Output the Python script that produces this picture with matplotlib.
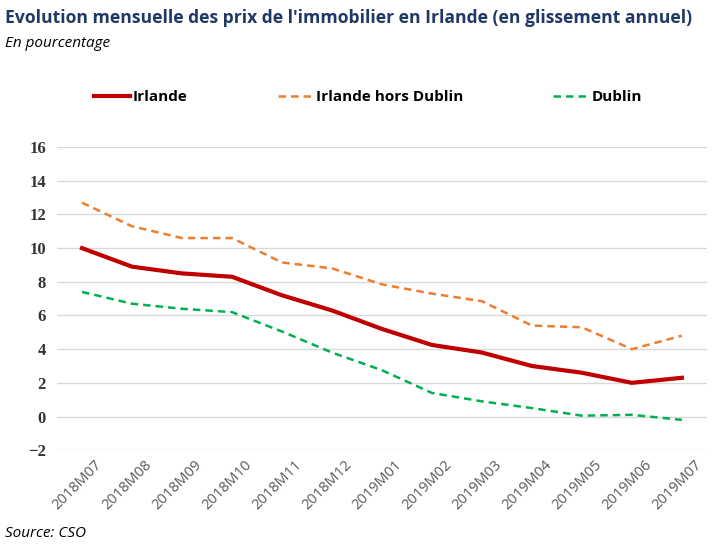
import matplotlib.pyplot as plt
import matplotlib.transforms as mtransforms
from matplotlib.lines import Line2D

# données (glissement annuel, %)
mois = ["2018M07", "2018M08", "2018M09", "2018M10", "2018M11", "2018M12",
        "2019M01", "2019M02", "2019M03", "2019M04", "2019M05", "2019M06", "2019M07"]
irlande = [10.0, 8.9, 8.5, 8.3, 7.2, 6.3, 5.2, 4.25, 3.8, 3.0, 2.6, 2.0, 2.3]
hors_dublin = [12.7, 11.3, 10.6, 10.6, 9.15, 8.8, 7.85, 7.3, 6.85, 5.4, 5.3, 4.0, 4.8]
dublin = [7.4, 6.7, 6.4, 6.2, 5.05, 3.8, 2.75, 1.4, 0.9, 0.5, 0.05, 0.1, -0.2]
yticks = [-2, 0, 2, 4, 6, 8, 10, 12, 14, 16]

c_irl = "#C00000"
c_hors = "#ED7D31"
c_dub = "#00B050"

fig = plt.figure(figsize=(7.22, 5.45), dpi=100)
ax = fig.add_axes([0.079, 0.174, 0.900, 0.556])

x = range(len(mois))
ax.plot(x, hors_dublin, color=c_hors, lw=1.8, ls=(0, (3, 2)))
ax.plot(x, dublin, color=c_dub, lw=1.8, ls=(0, (3, 2)))
ax.plot(x, irlande, color=c_irl, lw=3)

ax.set_xlim(-0.5, len(mois) - 0.5)
ax.set_ylim(-2, 16)
ax.set_yticks(yticks)
ax.set_yticklabels([str(v).replace("-", "\u2212") for v in yticks],
                   family="Liberation Serif", fontsize=12, fontweight="bold", color="#333333")
ax.set_xticks(list(x))
ax.set_xticklabels(mois, rotation=45, ha="right", rotation_mode="anchor",
                   family="Open Sans", fontsize=10.5, color="#595959")
ax.tick_params(length=0, pad=8)
ax.tick_params(axis="x", pad=5)
# decale les etiquettes vers la droite comme dans l'original
decal = mtransforms.ScaledTranslation(12 / 100, 0, fig.dpi_scale_trans)
for lab in ax.get_xticklabels():
    lab.set_transform(lab.get_transform() + decal)
ax.grid(axis="y", color="#D9D9D9", lw=1)
ax.set_axisbelow(True)
for s in ax.spines.values():
    s.set_visible(False)

fig.text(0.007, 0.967, "Evolution mensuelle des prix de l'immobilier en Irlande (en glissement annuel)",
         family="Open Sans", fontsize=12.6, fontweight="bold", color="#1F3864", va="center")
fig.text(0.007, 0.92, "En pourcentage", family="Open Sans", fontsize=11, style="italic",
         color="black", va="center")
fig.text(0.007, 0.022, "Source: CSO", family="Open Sans", fontsize=11, style="italic",
         color="black", va="center")

handles = [Line2D([], [], color=c_irl, lw=3),
           Line2D([], [], color=c_hors, lw=1.8, ls=(0, (3, 2))),
           Line2D([], [], color=c_dub, lw=1.8, ls=(0, (3, 2)))]
fig.legend(handles, ["Irlande", "Irlande hors Dublin", "Dublin"], loc="center",
           bbox_to_anchor=(0.51, 0.822), ncol=3, frameon=False, handlelength=2.3,
           handletextpad=0.2, columnspacing=5.9,
           prop={"family": "Open Sans", "size": 11, "weight": "bold"})

fig.savefig("out.png", dpi=100)
